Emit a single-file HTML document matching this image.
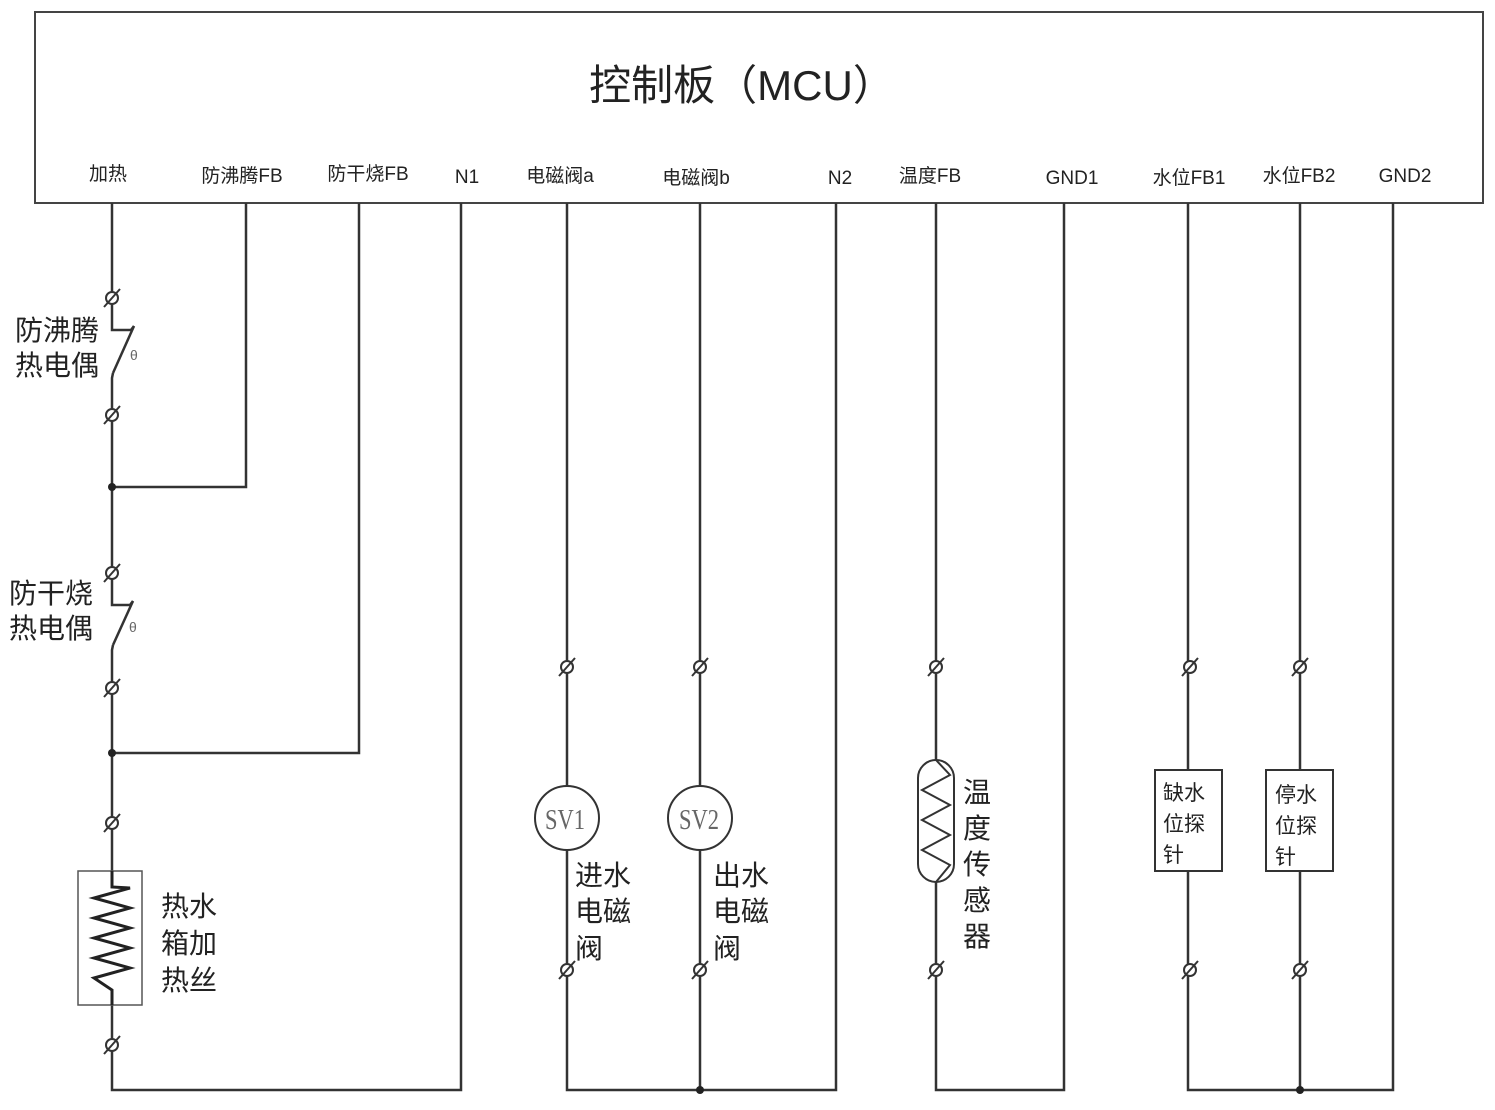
<!DOCTYPE html>
<html><head><meta charset="utf-8"><style>
html,body{margin:0;padding:0;background:#fff;}
svg{display:block;}
text{font-family:"Liberation Sans","Noto Sans CJK SC",sans-serif;fill:#222;}
</style></head><body>
<svg width="1495" height="1110" viewBox="0 0 1495 1110" xmlns="http://www.w3.org/2000/svg">
<defs>
<g id="t"><circle cx="0" cy="0" r="6" fill="#fff" stroke="#333" stroke-width="2"/><line x1="-8" y1="9" x2="8" y2="-9" stroke="#333" stroke-width="2"/></g>
</defs>
<rect x="35" y="12" width="1448" height="191" fill="#fff" stroke="#444" stroke-width="2"/>
<text x="742" y="100" font-size="42" text-anchor="middle">控制板（MCU）</text>
<g font-size="19" text-anchor="middle">
<text x="108" y="180">加热</text>
<text x="242" y="182">防沸腾FB</text>
<text x="368" y="180">防干烧FB</text>
<text x="467" y="183">N1</text>
<text x="560" y="182">电磁阀a</text>
<text x="696" y="184">电磁阀b</text>
<text x="840" y="184">N2</text>
<text x="930" y="182">温度FB</text>
<text x="1072" y="184">GND1</text>
<text x="1189" y="184">水位FB1</text>
<text x="1299" y="182">水位FB2</text>
<text x="1405" y="182">GND2</text>
</g>
<g stroke="#333" stroke-width="2.5" fill="none">
<polyline points="112,203 112,330 131,330 134,326"/>
<line x1="134" y1="326" x2="113" y2="373"/>
<polyline points="113,373 112,378 112,605 130,605 133,601"/>
<line x1="133" y1="601" x2="113" y2="645"/>
<polyline points="113,645 112,650 112,1090 461,1090 461,203"/>
<polyline points="112,487 246,487 246,203"/>
<polyline points="112,753 359,753 359,203"/>
<polyline points="567,203 567,1090 836,1090 836,203"/>
<line x1="700" y1="203" x2="700" y2="1090"/>
<polyline points="936,203 936,1090 1064,1090 1064,203"/>
<polyline points="1188,203 1188,1090 1393,1090 1393,203"/>
<line x1="1300" y1="203" x2="1300" y2="1090"/>
</g>
<g fill="#222"><circle cx="112" cy="487" r="4"/><circle cx="112" cy="753" r="4"/><circle cx="700" cy="1090" r="4"/><circle cx="1300" cy="1090" r="4"/></g>
<text x="130" y="360" font-size="14" style="fill:#666">θ</text>
<text x="129" y="632" font-size="14" style="fill:#666">θ</text>
<rect x="78" y="871" width="64" height="134" fill="#fff" stroke="#555" stroke-width="1.5"/>
<polyline points="112,871 112,887 130,888 94,898 130,908 94,918 130,928 94,938 130,948 94,958 130,968 94,978 112,990 112,1005" fill="none" stroke="#222" stroke-width="3"/>
<circle cx="567" cy="818" r="32" fill="#fff" stroke="#333" stroke-width="2"/>
<circle cx="700" cy="818" r="32" fill="#fff" stroke="#333" stroke-width="2"/>
<text x="565" y="829" font-size="28" text-anchor="middle" textLength="40" lengthAdjust="spacingAndGlyphs" style="font-family:'Liberation Serif',serif;fill:#666">SV1</text>
<text x="699" y="829" font-size="28" text-anchor="middle" textLength="40" lengthAdjust="spacingAndGlyphs" style="font-family:'Liberation Serif',serif;fill:#666">SV2</text>
<rect x="918" y="760" width="36" height="122" rx="18" fill="#fff" stroke="#333" stroke-width="2"/>
<polyline points="936,760 950,775 922,790 950,805 922,820 950,835 922,850 950,865 936,882" fill="none" stroke="#333" stroke-width="2"/>
<rect x="1155" y="770" width="67" height="101" fill="#fff" stroke="#333" stroke-width="2"/>
<rect x="1266" y="770" width="67" height="101" fill="#fff" stroke="#333" stroke-width="2"/>
<g font-size="21">
<text x="1163" y="800">缺水</text><text x="1163" y="831">位探</text><text x="1163" y="862">针</text>
<text x="1275" y="802">停水</text><text x="1275" y="833">位探</text><text x="1275" y="864">针</text>
</g>
<use href="#t" x="112" y="298"/><use href="#t" x="112" y="415"/>
<use href="#t" x="112" y="573"/><use href="#t" x="112" y="688"/>
<use href="#t" x="112" y="823"/><use href="#t" x="112" y="1045"/>
<use href="#t" x="567" y="667"/><use href="#t" x="567" y="970"/>
<use href="#t" x="700" y="667"/><use href="#t" x="700" y="970"/>
<use href="#t" x="936" y="667"/><use href="#t" x="936" y="970"/>
<use href="#t" x="1190" y="667"/><use href="#t" x="1190" y="970"/>
<use href="#t" x="1300" y="667"/><use href="#t" x="1300" y="970"/>
<g font-size="28">
<text x="15" y="340">防沸腾</text><text x="15" y="375">热电偶</text>
<text x="9" y="603">防干烧</text><text x="9" y="638">热电偶</text>
<text x="161" y="916">热水</text><text x="161" y="953">箱加</text><text x="161" y="990">热丝</text>
<text x="575" y="885">进水</text><text x="575" y="921">电磁</text><text x="575" y="958">阀</text>
<text x="713" y="885">出水</text><text x="713" y="921">电磁</text><text x="713" y="958">阀</text>
<text x="963" y="802">温</text><text x="963" y="838">度</text><text x="963" y="874">传</text><text x="963" y="910">感</text><text x="963" y="946">器</text>
</g>
</svg>
</body></html>
